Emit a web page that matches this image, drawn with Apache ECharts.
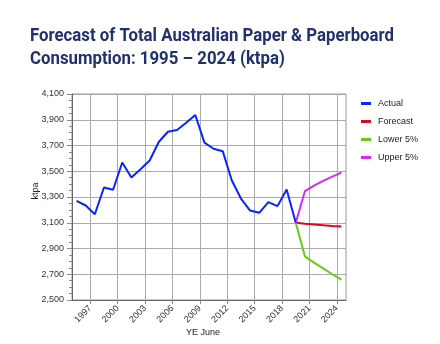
<!DOCTYPE html>
<html>
<head>
<meta charset="utf-8">
<script src="https://cdn.jsdelivr.net/npm/echarts@6/dist/echarts.min.js"></script>
<style>
html,body{margin:0;padding:0;background:#fff;}
#chart{width:440px;height:344px;}
</style>
</head>
<body>
<div id="chart"></div>
<script>
var years = [1995,1996,1997,1998,1999,2000,2001,2002,2003,2004,2005,2006,2007,2008,2009,2010,2011,2012,2013,2014,2015,2016,2017,2018,2019,2020,2021,2022,2023,2024];
var actual = [3270,3234,3166,3374,3356,3568,3452,3515,3584,3727,3807,3820,3877,3937,3722,3675,3656,3428,3288,3195,3177,3260,3229,3358,3100,null,null,null,null,null];
var forecast = [null,null,null,null,null,null,null,null,null,null,null,null,null,null,null,null,null,null,null,null,null,null,null,null,3100,3092,3087,3081,3075,3070];
var lower5 = [null,null,null,null,null,null,null,null,null,null,null,null,null,null,null,null,null,null,null,null,null,null,null,null,3100,2839,2790,2745,2700,2658];
var upper5 = [null,null,null,null,null,null,null,null,null,null,null,null,null,null,null,null,null,null,null,null,null,null,null,null,3100,3345,3388,3425,3458,3490];
var tickYears = [1997,2000,2003,2006,2009,2012,2015,2018,2021,2024];
var yTicks = [2500,2700,2900,3100,3300,3500,3700,3900,4100];
var titleLines = ['Forecast of Total Australian Paper & Paperboard', 'Consumption: 1995 \u2013 2024 (ktpa)'];

// boundary labels: one slot before each year plus the closing edge
var boundaries = years.map(function(y){ return tickYears.indexOf(y) >= 0 ? String(y) : ''; });
boundaries.push('');

// condensed title: measure the first line and squeeze it horizontally to its width in the picture
var titleFont = 'bold 18px Roboto';
var mctx = document.createElement('canvas').getContext('2d');
mctx.font = titleFont;
var titleScale = 364 / mctx.measureText(titleLines[0]).width;

var chart = echarts.init(document.getElementById('chart'), null, {renderer:'canvas'});
var labelFont = "'Liberation Sans', Arial, sans-serif";
var showIdx = function(i, v){ return v !== ''; };
chart.setOption({
  animation:false,
  backgroundColor:'#ffffff',
  graphic:[
    {type:'text', x:30, y:27, scaleX:titleScale, scaleY:1,
     style:{text:titleLines[0], font:titleFont, fill:'#22306e', verticalAlign:'top'}},
    {type:'text', x:30, y:50, scaleX:titleScale, scaleY:1,
     style:{text:titleLines[1], font:titleFont, fill:'#22306e', verticalAlign:'top'}}
  ],
  legend:{
    orient:'vertical', left:356, top:94,
    icon:'rect', itemWidth:10, itemHeight:3, itemGap:9,
    textStyle:{fontFamily:labelFont,fontSize:9,color:'#222',padding:[0,0,0,2]},
    data:['Actual','Forecast','Lower 5%','Upper 5%']
  },
  grid:{left:72,right:94,top:94,bottom:44,show:true,borderColor:'#999',borderWidth:1,backgroundColor:'transparent'},
  xAxis:[
    {type:'category',data:years,boundaryGap:true,show:false},
    {type:'category',data:boundaries,boundaryGap:false,position:'bottom',
     name:'YE June',nameLocation:'middle',nameGap:28,nameMoveOverlap:false,
     nameTextStyle:{fontFamily:labelFont,fontSize:9,color:'#222',padding:[0,12,0,0]},
     axisLine:{show:true,lineStyle:{color:'#666',width:1}},
     axisTick:{show:true,length:4,interval:showIdx,lineStyle:{color:'#888'}},
     splitLine:{show:true,interval:showIdx,lineStyle:{color:'#aaa',width:1}},
     axisLabel:{interval:showIdx,rotate:45,fontSize:9,fontFamily:labelFont,color:'#333',margin:7}
    }
  ],
  yAxis:{
    type:'value',min:yTicks[0],max:yTicks[yTicks.length-1],interval:200,
    name:'ktpa',nameLocation:'middle',nameGap:32,nameMoveOverlap:false,
    nameTextStyle:{fontFamily:labelFont,fontSize:9,color:'#222',padding:[0,0,0,12]},
    axisLine:{show:true,lineStyle:{color:'#666',width:1}},
    axisTick:{show:true,length:5,lineStyle:{color:'#888'}},
    minorTick:{show:true,splitNumber:4,length:3,lineStyle:{color:'#888'}},
    splitLine:{show:true,lineStyle:{color:'#aaa',width:1}},
    axisLabel:{fontSize:9,fontFamily:labelFont,color:'#333',margin:8,
      formatter:function(v){return String(v).replace(/\B(?=(\d{3})+(?!\d))/g, ',');}}
  },
  series:[
    {name:'Actual',type:'line',data:actual,showSymbol:false,symbol:'none',lineStyle:{color:'#0a24ff',width:2},itemStyle:{color:'#0a24ff'},z:3},
    {name:'Forecast',type:'line',data:forecast,showSymbol:false,symbol:'none',lineStyle:{color:'#e0061b',width:2},itemStyle:{color:'#e0061b'},z:2},
    {name:'Lower 5%',type:'line',data:lower5,showSymbol:false,symbol:'none',lineStyle:{color:'#66cc1a',width:2},itemStyle:{color:'#66cc1a'},z:2},
    {name:'Upper 5%',type:'line',data:upper5,showSymbol:false,symbol:'none',lineStyle:{color:'#d22cf2',width:2},itemStyle:{color:'#d22cf2'},z:2}
  ]
});
</script>
</body>
</html>
